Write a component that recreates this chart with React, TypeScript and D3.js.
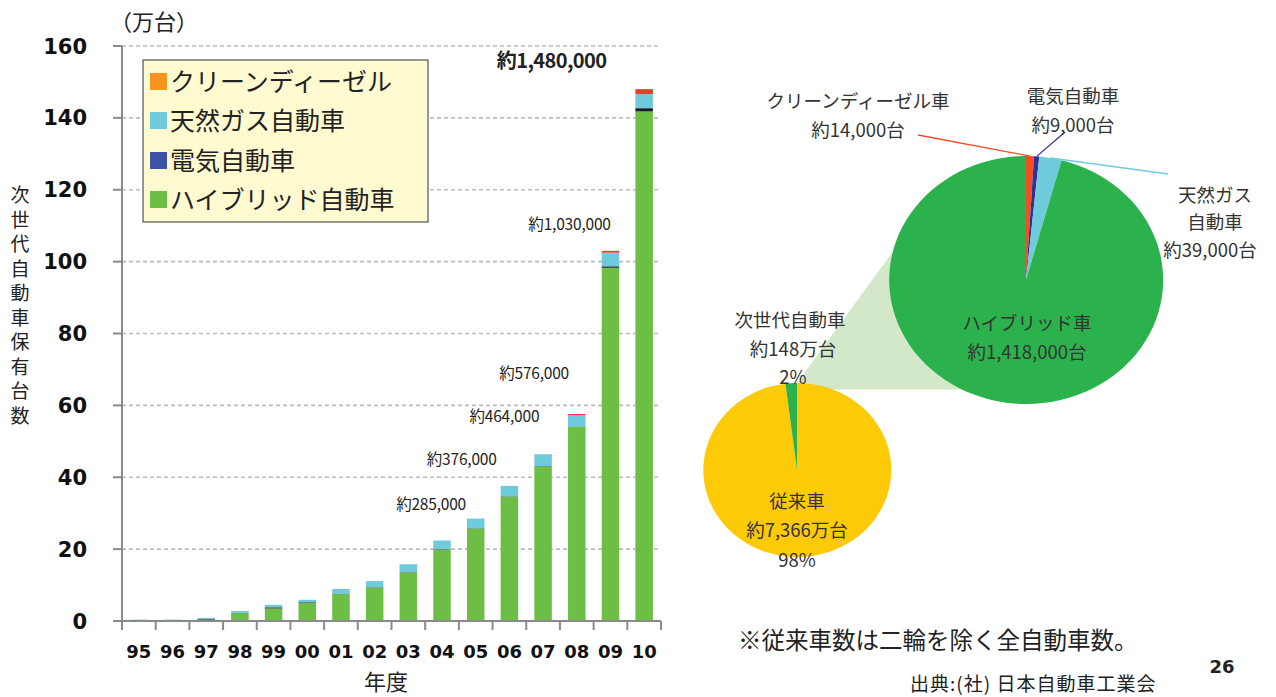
import React from 'react';
import * as d3 from 'd3';

const years = ['95', '96', '97', '98', '99', '00', '01', '02', '03', '04', '05', '06', '07', '08', '09', '10'];
// 万台
const hybrid = [0, 0, 0.4, 2.2, 3.5, 5.0, 7.5, 9.3, 13.5, 19.9, 25.7, 34.6, 43.0, 54.0, 98.3, 141.8];
const electric = [0.1, 0.1, 0.2, 0.1, 0.3, 0.2, 0.1, 0.1, 0.1, 0.1, 0.1, 0.1, 0.1, 0.1, 0.4, 0.9];
const naturalGas = [0.3, 0.3, 0.3, 0.5, 0.7, 0.7, 1.3, 1.7, 2.2, 2.4, 2.7, 2.9, 3.3, 3.2, 3.8, 3.9];
const cleanDiesel = [0, 0, 0, 0, 0, 0, 0, 0, 0, 0, 0, 0, 0, 0.3, 0.5, 1.4];

const yTicks = [0, 20, 40, 60, 80, 100, 120, 140, 160];

const totalLabels = [
  { year: '05', text: '約285,000' },
  { year: '06', text: '約376,000' },
  { year: '07', text: '約464,000' },
  { year: '08', text: '約576,000' },
  { year: '09', text: '約1,030,000' },
  { year: '10', text: '約1,480,000' },
];

const legendNames = ['クリーンディーゼル', '天然ガス自動車', '電気自動車', 'ハイブリッド自動車'];

// 2010 breakdown (台)
const nextGenNames = ['クリーンディーゼル車', '電気自動車', '天然ガス自動車', 'ハイブリッド車'];
const nextGenValues = [14000, 9000, 39000, 1418000];

// all cars (万台)
const allCarNames = ['従来車', '次世代自動車'];
const allCarValues = [7366, 148];

const FONT_JP = '"Noto Sans CJK JP", "Noto Sans", sans-serif';
const FONT_NUM = '"DejaVu Sans", "Liberation Sans", sans-serif';

const barColors = { hybrid: '#6dbe45', electric: '#1c1c28', naturalGas: '#6ecbdc', cleanDiesel: '#ee3b2b' };
const legendColors = ['#f7941d', '#6ecbdc', '#3a53a4', '#6dbe45'];
const bigPieColors = ['#f04e23', '#2e3192', '#6ecbdc', '#2bb24c'];
const smallPieColors = ['#fdca08', '#2bb24c'];

// label offsets for the "約..." totals, relative to bar left edge / bar top
const labelOffsets = [[-1, -9], [-4, -21], [5, -32], [1, -35], [9, -21], [-29, -21]];

export default function App() {
  const W = 1276, H = 697;
  const left = 122, right = 661, bottom = 621, top = 46;

  const x = d3.scaleBand<string>().domain(years).range([left, right]).paddingInner(0.48).paddingOuter(0.24);
  const y = d3.scaleLinear().domain([0, 160]).range([bottom, top]);

  const table = years.map((yr, i) => ({
    year: yr,
    hybrid: hybrid[i],
    electric: electric[i],
    naturalGas: naturalGas[i],
    cleanDiesel: cleanDiesel[i],
  }));
  const keys = ['hybrid', 'electric', 'naturalGas', 'cleanDiesel'];
  const stacked = d3.stack<any>().keys(keys)(table);

  const step = x.step();
  const boundaries = d3.range(years.length + 1).map(i => left + i * step);

  // pies are drawn slightly stretched, like the original
  const big = { cx: 1026, cy: 280, rx: 137, ry: 124 };
  const small = { cx: 797, cy: 470, rx: 94, ry: 87 };
  const pie = d3.pie<number>().sort(null).value(d => d);
  const bigArcs = pie(nextGenValues);
  const smallArcs = pie(allCarValues);
  const unitArc = d3.arc<any>().innerRadius(0).outerRadius(1);

  const onEllipse = (e: typeof big, a: number) => [e.cx + e.rx * Math.sin(a), e.cy - e.ry * Math.cos(a)];

  // connector between the two pies
  const p1 = onEllipse(big, (-77 * Math.PI) / 180);
  const p2 = onEllipse(big, (208 * Math.PI) / 180);
  const sTop = onEllipse(small, 0);
  const connector = [sTop, p1, [big.cx, big.cy], p2, [small.cx, p2[1]]];

  const leaders = [
    { i: 0, to: [918, 135] },
    { i: 1, to: [1065, 132] },
    { i: 2, to: [1168, 174] },
  ];

  const legendY = [73, 112, 152, 191];
  const fmt = d3.format(',');

  return (
    <svg width={W} height={H} style={{ position: 'absolute', left: 0, top: 0, background: '#fff' }}>
      {/* gridlines */}
      {yTicks.filter(t => t > 0).map(t => (
        <line key={t} x1={left} x2={right} y1={y(t)} y2={y(t)} stroke="#bcbcbc" strokeWidth={1.6} strokeDasharray="4 3" />
      ))}

      {/* bars */}
      {stacked.map(layer => (
        <g key={layer.key} fill={(barColors as any)[layer.key]}>
          {layer.map((d, i) => (
            d[1] - d[0] > 0 ? (
              <rect key={i} x={x(years[i])} width={x.bandwidth()} y={y(d[1])} height={y(d[0]) - y(d[1])} />
            ) : null
          ))}
        </g>
      ))}

      {/* axes */}
      <line x1={left} x2={left} y1={top} y2={bottom} stroke="#8a8a8a" strokeWidth={2} />
      {yTicks.map(t => (
        <g key={t}>
          <line x1={left - 9} x2={left} y1={y(t)} y2={y(t)} stroke="#8a8a8a" strokeWidth={2} />
          <text x={87} y={y(t)} dy="0.36em" textAnchor="end" fontFamily={FONT_NUM} fontWeight="bold" fontSize={21} fill="#111">{t}</text>
        </g>
      ))}
      <line x1={left - 9} x2={right} y1={bottom} y2={bottom} stroke="#8a8a8a" strokeWidth={2} />
      {boundaries.map((b, i) => (
        <line key={i} x1={b} x2={b} y1={bottom} y2={bottom + 9} stroke="#8a8a8a" strokeWidth={2} />
      ))}
      {years.map(yr => (
        <text key={yr} x={(x(yr) as number) + x.bandwidth() / 2} y={658} textAnchor="middle" fontFamily={FONT_NUM} fontWeight="bold" fontSize={18} fill="#111">{yr}</text>
      ))}
      <text x={386} y={690} textAnchor="middle" fontFamily={FONT_JP} fontSize={22} fill="#222">年度</text>
      <text x={110} y={30} fontFamily={FONT_JP} fontSize={22} fill="#222">（万台）</text>
      {'次世代自動車保有台数'.split('').map((c, i) => (
        <text key={i} x={20} y={202 + i * 24.5} textAnchor="middle" fontFamily={FONT_JP} fontSize={19} fill="#222">{c}</text>
      ))}

      {/* totals */}
      {totalLabels.map((l, i) => {
        const idx = years.indexOf(l.year);
        const tot = hybrid[idx] + electric[idx] + naturalGas[idx] + cleanDiesel[idx];
        const last = i === totalLabels.length - 1;
        return (
          <text key={l.year} x={(x(l.year) as number) + labelOffsets[i][0]} y={y(tot) + labelOffsets[i][1]} textAnchor="end"
            fontFamily={FONT_JP} fontSize={last ? 20 : 15.5} fontWeight={last ? 'bold' : 'normal'} fill="#222" letterSpacing={last ? -0.6 : -0.2}>{l.text}</text>
        );
      })}

      {/* legend */}
      <rect x={143} y={60} width={285} height={162} fill="#fffad0" stroke="#333" strokeWidth={1} />
      {legendNames.map((n, i) => (
        <g key={n}>
          <rect x={150} y={legendY[i]} width={17} height={17} fill={legendColors[i]} />
          <text x={170} y={legendY[i] + 18} fontFamily={FONT_JP} fontSize={25} fill="#222">{n}</text>
        </g>
      ))}

      {/* pie connector */}
      <polygon points={connector.map(p => p.join(',')).join(' ')} fill="#d2e8c8" />

      {/* small pie */}
      <g transform={`translate(${small.cx},${small.cy}) scale(${small.rx},${small.ry})`}>
        {smallArcs.map((a, i) => <path key={i} d={unitArc(a) as string} fill={smallPieColors[i]} />)}
      </g>

      {/* big pie */}
      <g transform={`translate(${big.cx},${big.cy}) scale(${big.rx},${big.ry})`}>
        {bigArcs.map((a, i) => <path key={i} d={unitArc(a) as string} fill={bigPieColors[i]} />)}
      </g>
      {leaders.map(l => {
        const a = bigArcs[l.i];
        const p = onEllipse(big, (a.startAngle + a.endAngle) / 2);
        return <line key={l.i} x1={p[0]} y1={p[1]} x2={l.to[0]} y2={l.to[1]} stroke={bigPieColors[l.i]} strokeWidth={1.3} />;
      })}

      <g fontFamily={FONT_JP} fontSize={18.5} fill="#333" textAnchor="middle">
        <text x={858} y={108}>{nextGenNames[0]}</text>
        <text x={858} y={137}>約{fmt(nextGenValues[0])}台</text>
        <text x={1073} y={103}>{nextGenNames[1]}</text>
        <text x={1073} y={132}>約{fmt(nextGenValues[1])}台</text>
        <text x={1215} y={202}>天然ガス</text>
        <text x={1215} y={229}>自動車</text>
        <text x={1210} y={257}>約{fmt(nextGenValues[2])}台</text>
        <text x={1027} y={330}>{nextGenNames[3]}</text>
        <text x={1027} y={359}>約{fmt(nextGenValues[3])}台</text>
        <text x={790} y={327}>{allCarNames[1]}</text>
        <text x={793} y={356}>約{allCarValues[1]}万台</text>
        <text x={793} y={384}>{Math.round((allCarValues[1] / d3.sum(allCarValues)) * 100)}%</text>
        <text x={797} y={508}>{allCarNames[0]}</text>
        <text x={797} y={537}>約{fmt(allCarValues[0])}万台</text>
        <text x={797} y={567}>{Math.round((allCarValues[0] / d3.sum(allCarValues)) * 100)}%</text>
      </g>

      {/* footer */}
      <text x={738} y={649} fontFamily={FONT_JP} fontSize={23.5} fill="#222">※従来車数は二輪を除く全自動車数。</text>
      <text x={1222} y={673} textAnchor="middle" fontFamily={FONT_NUM} fontWeight="bold" fontSize={18} fill="#222">26</text>
      <text x={910} y={691} fontFamily={FONT_JP} fontSize={19} letterSpacing={1} fill="#222">出典:(社) 日本自動車工業会</text>
    </svg>
  );
}
